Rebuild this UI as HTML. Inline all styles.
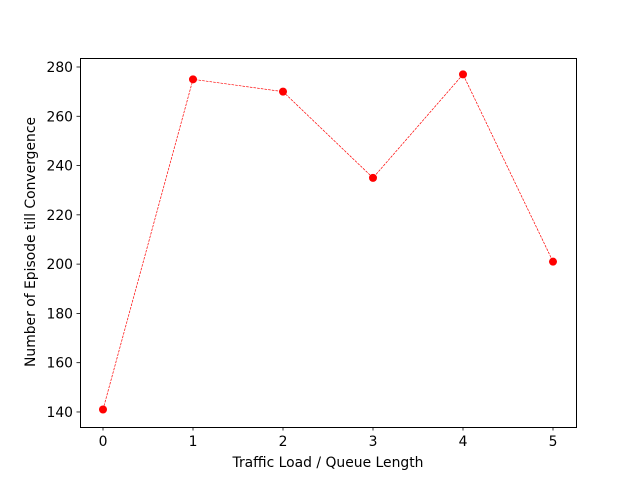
<!DOCTYPE html>
<html><head><meta charset="utf-8"><style>body{margin:0;background:#fff}svg{display:block}text{font-family:"DejaVu Sans","Liberation Sans",sans-serif;font-size:13.9px;fill:#000}</style></head>
<body>
<svg id="chart" width="640" height="480">
<rect x="0" y="0" width="640" height="480" fill="#fff"/>
<g id="plot"></g>
<rect x="80.5" y="58.5" width="496" height="369" fill="none" stroke="#000" stroke-width="1"/>
<text x="328" y="467" text-anchor="middle">Traffic Load / Queue Length</text>
<text transform="translate(35,242) rotate(-90)" text-anchor="middle">Number of Episode till Convergence</text>
</svg>
<script>
const categories=[0,1,2,3,4,5];
const values=[141,275,270,235,277,201];
const yTicks=[140,160,180,200,220,240,260,280];
const xTicks=[0,1,2,3,4,5];
const NS='http://www.w3.org/2000/svg';
const L=80,R=576,T=58,B=427;
const xMin=-0.2556,xMax=5.2556,yMin=133.9,yMax=283.65;
const xs=v=>L+(v-xMin)/(xMax-xMin)*(R-L);
const ys=v=>B-(v-yMin)/(yMax-yMin)*(B-T);
const g=document.getElementById('plot');
function mk(t,a){const e=document.createElementNS(NS,t);for(const k in a)e.setAttribute(k,a[k]);g.appendChild(e);return e;}
yTicks.forEach(v=>{const y=ys(v);
const l=mk('line',{x1:L-3.5,x2:L,y1:y,y2:y,stroke:'#000','stroke-width':0.8});


const t=mk('text',{x:L-7,y:y+5,'text-anchor':'end'});t.textContent=v;

});
xTicks.forEach(v=>{const x=xs(v);
const l=mk('line',{x1:x,x2:x,y1:B,y2:B+3.5,stroke:'#000','stroke-width':0.8});


const t=mk('text',{x:x,y:B+19,'text-anchor':'middle'});t.textContent=v;

});
const pts=categories.map((c,i)=>xs(c)+','+ys(values[i])).join(' ');
const pl=mk('polyline',{points:pts,fill:'none',stroke:'red','stroke-width':0.7,'stroke-dasharray':'2.6,1.1'});


categories.forEach((c,i)=>{const m=mk('circle',{cx:xs(c),cy:ys(values[i]),r:4,fill:'red'});

});
</script>
</body></html>
